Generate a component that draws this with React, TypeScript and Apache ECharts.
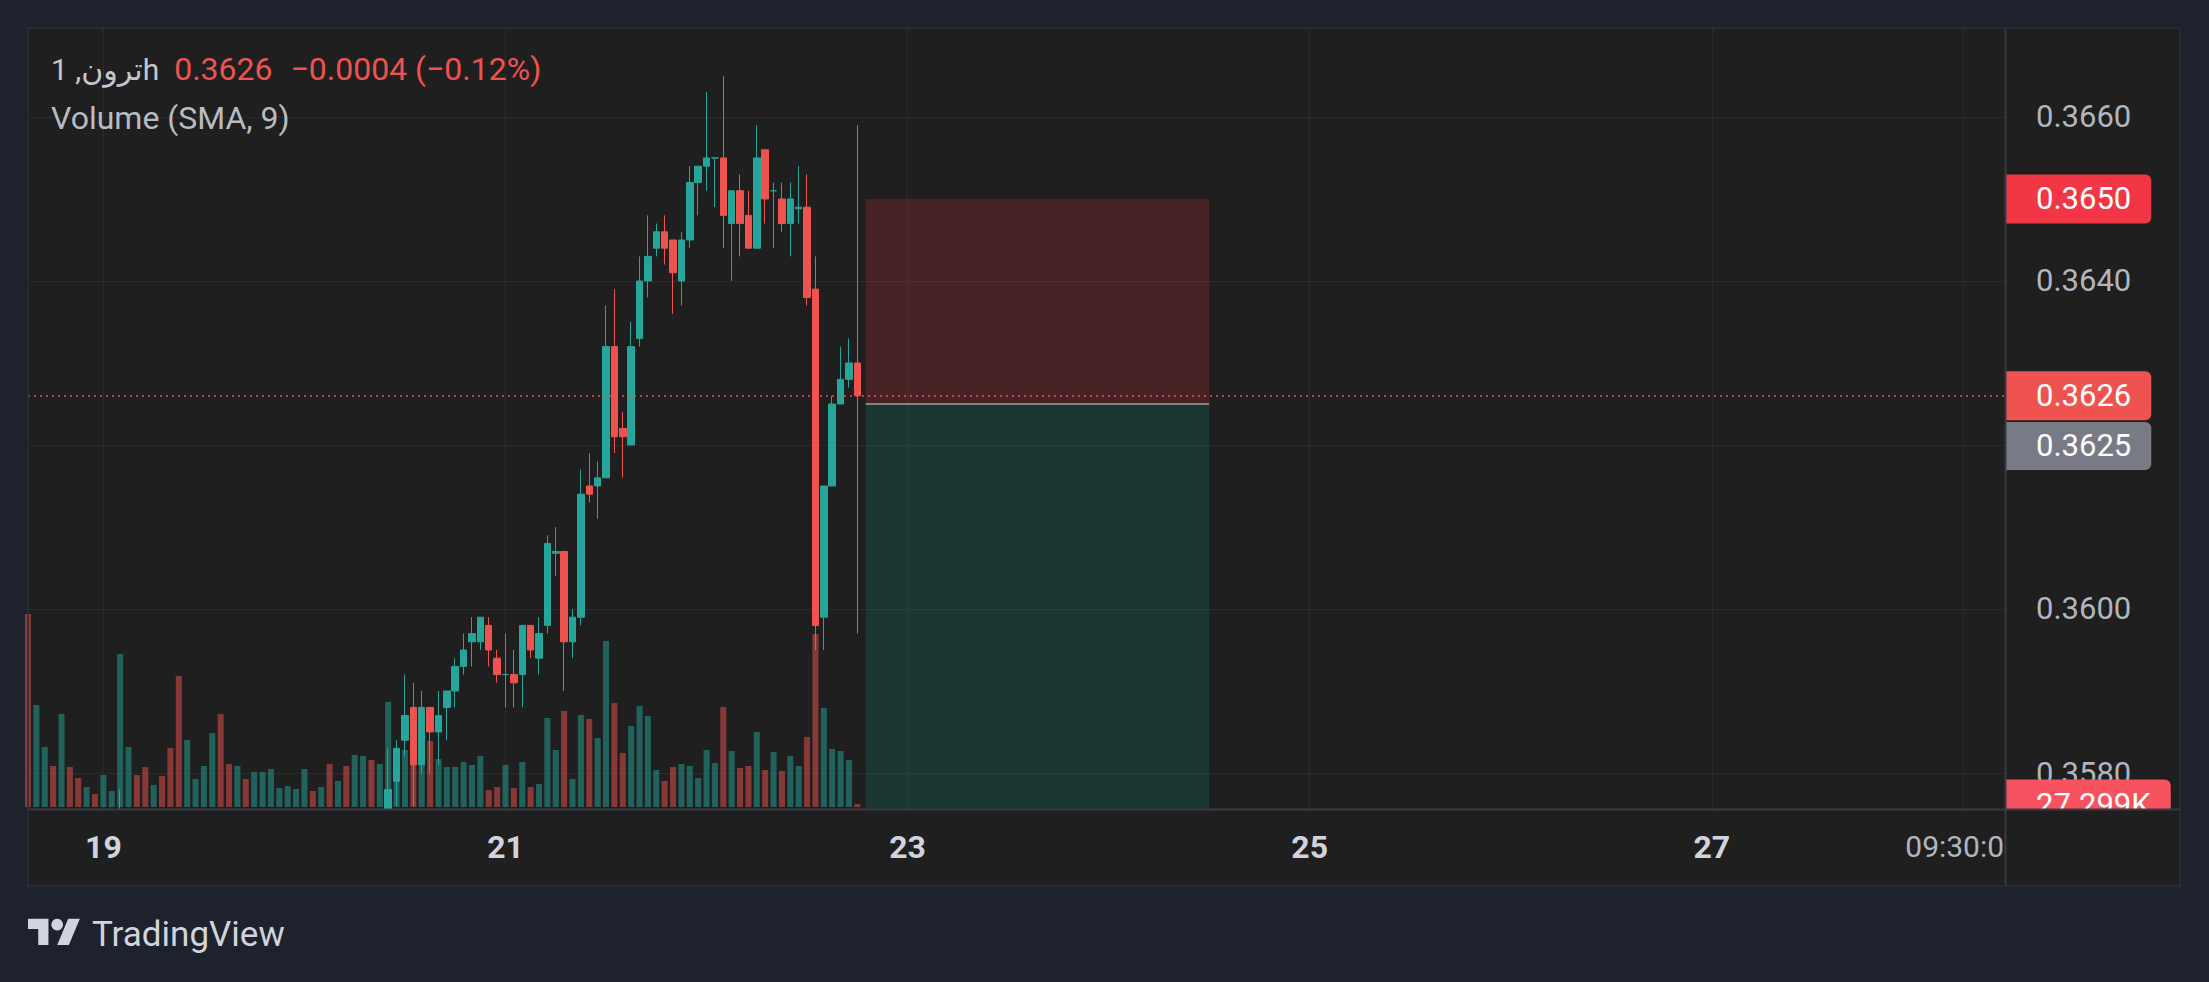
import React, { useEffect, useRef } from "react";
import * as echarts from "echarts";

const FONT = 'Roboto, "DejaVu Sans", "Noto Sans", sans-serif';
const OUTER_BG = "#1e222d";
const PANE_BG = "#1f1f1f";
const GRID_LINE = "#2b2b2b";
const DIVIDER = "#363a45";
const BORDER = "#2a2e39";
const UP = "#26a69a";
const DOWN = "#ef5350";
const UP_VOL = "rgba(38,166,154,0.5)";
const DOWN_VOL = "rgba(239,83,80,0.5)";
const AXIS_TEXT = "#b2b5be";
const HIDDEN_LINE = "rgba(0,0,0,0)";

// hourly categories, first bar = 18th 15:00
const FIRST_DAY = 18;
const FIRST_HOUR = 15;
const HOUR_COUNT = 237;
const CATEGORIES: string[] = [];
for (let i = 0; i < HOUR_COUNT; i++) {
  const h = FIRST_HOUR + i;
  CATEGORIES.push(`${FIRST_DAY + Math.floor(h / 24)} ${String(h % 24).padStart(2, "0")}:00`);
}
const TIME_LABELS: Record<number, string> = { 9: "19", 57: "21", 105: "23", 153: "25", 201: "27", 231: "09:30:00" };

// [open, close, low, high]
const CANDLES: number[][] = [
  [0.3566, 0.3561, 0.3558, 0.3568], [0.3561, 0.3565, 0.3559, 0.3567], [0.3565, 0.3567, 0.3563, 0.3569],
  [0.3567, 0.3565, 0.3563, 0.3568], [0.3565, 0.3569, 0.3564, 0.3571], [0.3569, 0.3567, 0.3566, 0.357],
  [0.3567, 0.3566, 0.3564, 0.3568], [0.3566, 0.3567, 0.3565, 0.3569], [0.3567, 0.3566, 0.3565, 0.3568],
  [0.3566, 0.3568, 0.3565, 0.3569], [0.3568, 0.3569, 0.3567, 0.357], [0.3569, 0.3573, 0.3568, 0.3578],
  [0.3573, 0.3574, 0.3571, 0.3575], [0.3574, 0.3572, 0.3571, 0.3575], [0.3572, 0.357, 0.3569, 0.3573],
  [0.357, 0.3571, 0.3569, 0.3572], [0.3571, 0.3569, 0.3568, 0.3572], [0.3569, 0.3566, 0.3565, 0.357],
  [0.3566, 0.3561, 0.3559, 0.3567], [0.3561, 0.3564, 0.356, 0.3565], [0.3564, 0.3565, 0.3563, 0.3566],
  [0.3565, 0.3567, 0.3564, 0.3568], [0.3567, 0.357, 0.3566, 0.3571], [0.357, 0.3566, 0.3565, 0.3571],
  [0.3566, 0.3564, 0.3563, 0.3567], [0.3564, 0.3566, 0.3563, 0.3567], [0.3566, 0.3565, 0.3564, 0.3567],
  [0.3565, 0.3567, 0.3564, 0.3568], [0.3567, 0.3568, 0.3566, 0.3569], [0.3568, 0.357, 0.3567, 0.3571],
  [0.357, 0.3571, 0.3569, 0.3572], [0.3571, 0.3572, 0.357, 0.3573], [0.3572, 0.3572, 0.3571, 0.3573],
  [0.3572, 0.3574, 0.3571, 0.3575], [0.3574, 0.3573, 0.3572, 0.3575], [0.3573, 0.3574, 0.3572, 0.3575],
  [0.3574, 0.3571, 0.357, 0.3575], [0.3571, 0.3572, 0.357, 0.3573], [0.3572, 0.357, 0.3569, 0.3573],
  [0.357, 0.3572, 0.3569, 0.3573], [0.3572, 0.3574, 0.3571, 0.3575], [0.3574, 0.3572, 0.3571, 0.3575],
  [0.3572, 0.3573, 0.3571, 0.3575],
  [0.3573, 0.3578, 0.3572, 0.3583], [0.3579, 0.3583, 0.3576, 0.3584], [0.3584, 0.3587, 0.3582, 0.3592],
  [0.3588, 0.3581, 0.3576, 0.3591], [0.3581, 0.3588, 0.358, 0.359], [0.3588, 0.3585, 0.358, 0.3588],
  [0.3585, 0.3587, 0.3581, 0.359], [0.3588, 0.359, 0.3584, 0.359], [0.359, 0.3593, 0.3588, 0.3594],
  [0.3593, 0.3595, 0.3592, 0.3597], [0.3596, 0.3597, 0.3593, 0.3599], [0.3596, 0.3599, 0.3595, 0.3599],
  [0.3598, 0.3595, 0.3593, 0.3599], [0.3594, 0.3592, 0.3591, 0.3595], [0.3592, 0.3592, 0.3588, 0.3597],
  [0.3592, 0.3591, 0.3588, 0.3595], [0.3592, 0.3598, 0.3588, 0.3598], [0.3598, 0.3595, 0.3594, 0.3598],
  [0.3594, 0.3597, 0.3592, 0.3599], [0.3598, 0.3608, 0.3597, 0.3609], [0.36068, 0.3607, 0.3604, 0.361],
  [0.3607, 0.3596, 0.359, 0.3607], [0.3596, 0.3599, 0.3594, 0.36], [0.3599, 0.3614, 0.3598, 0.3617],
  [0.3615, 0.3614, 0.3613, 0.3619], [0.3615, 0.3616, 0.3611, 0.3618], [0.3616, 0.3632, 0.3616, 0.3637],
  [0.3632, 0.3621, 0.3619, 0.3639], [0.3622, 0.3621, 0.3616, 0.3624], [0.362, 0.3632, 0.362, 0.3635],
  [0.3633, 0.364, 0.3632, 0.3643], [0.364, 0.3643, 0.3638, 0.3648], [0.3644, 0.3646, 0.3643, 0.3647],
  [0.3646, 0.3644, 0.3642, 0.3648], [0.3645, 0.3641, 0.3636, 0.3645], [0.364, 0.3645, 0.3637, 0.3646],
  [0.3645, 0.3652, 0.3644, 0.3654], [0.3652, 0.3654, 0.3648, 0.3654], [0.3654, 0.3655, 0.3651, 0.3663],
  [0.3655, 0.3655, 0.3649, 0.3655], [0.3655, 0.3648, 0.3644, 0.3665], [0.3647, 0.3651, 0.364, 0.3651],
  [0.3651, 0.3647, 0.3643, 0.3653], [0.3648, 0.3644, 0.3644, 0.3651], [0.3644, 0.3655, 0.3644, 0.3659],
  [0.3656, 0.365, 0.3647, 0.3656], [0.3651, 0.3651, 0.3644, 0.3652], [0.365, 0.3647, 0.3646, 0.3652],
  [0.3647, 0.365, 0.3643, 0.3652], [0.36488, 0.3649, 0.3647, 0.3654], [0.3649, 0.3638, 0.3637, 0.3653],
  [0.3639, 0.3598, 0.3595, 0.3643], [0.3599, 0.3615, 0.3595, 0.3615], [0.3615, 0.3625, 0.3615, 0.3626],
  [0.3625, 0.3628, 0.3625, 0.3632], [0.3628, 0.363, 0.3627, 0.3633], [0.363, 0.3626, 0.3597, 0.3659],
];

// volume in thousands
const VOLUMES_K: number[] = [
  1756, 928, 546, 373, 846, 364, 264, 182, 118, 291,
  146, 1392, 546, 291, 364, 200, 282, 537, 1192, 610,
  255, 373, 673, 846, 391, 373, 255, 319, 319, 346,
  173, 191, 164, 346, 146, 182, 391, 237, 373, 473,
  464, 428, 391, 956, 537, 519, 500, 437, 601, 437,
  364, 364, 410, 382, 464, 155, 182, 382, 173, 410,
  182, 209, 810, 519, 874, 255, 837, 801, 628, 1511,
  946, 491, 737, 919, 828, 337, 237, 364, 391, 373,
  264, 519, 400, 910, 510, 355, 373, 683, 337, 501,
  328, 464, 373, 637, 1574, 901, 528, 510, 428, 27.299,
];

const LAST_PRICE = 0.3626;
const ENTRY_PRICE = 0.3625;
const STOP_PRICE = 0.365;
const POSITION_FROM = 100;
const POSITION_TO = 141;
const LAST_VOLUME_TEXT = "27.299K";

const PRICE_MIN = 0.357561;
const PRICE_MAX = 0.367085;
const PRICE_TICK_START = 0.358;
const PRICE_TICK_STEP = 0.002;
const HIDDEN_PRICE_TICKS = ["0.3620"];
const VOLUME_MAX = 1820;

// layout (px)
const PANE_L = 28, PANE_T = 28, PANE_R = 2180, PANE_B = 886;
const PLOT_R = 2005, PLOT_B = 809;
const PLOT_W = PLOT_R - PANE_L;
const PLOT_H = PLOT_B - PANE_T;
const VOL_BASE = 807, VOL_H = 200;

function tagLabel(bg: string, text: string) {
  return {
    show: true,
    position: "end",
    distance: 1,
    formatter: () => text,
    color: "#ffffff",
    fontSize: 31,
    fontFamily: FONT,
    backgroundColor: bg,
    padding: [9, 20, 9, 30],
    borderRadius: [0, 6, 6, 0],
  };
}

export default function App() {
  const ref = useRef<HTMLDivElement>(null);
  useEffect(() => {
    document.body.style.margin = "0";
    document.body.style.background = OUTER_BG;
    const chart = echarts.init(ref.current!, undefined, { renderer: "svg" });
    const tickFilter = (idx: number) => TIME_LABELS[idx] !== undefined;
    const volumeData = VOLUMES_K.map((v, i) => {
      const c = CANDLES[i];
      const up = c[1] > c[0] || (c[1] === c[0] && (i === 0 || CANDLES[i - 1][1] <= c[1]));
      return { value: v, itemStyle: { color: up ? UP_VOL : DOWN_VOL } };
    });
    const overlayH = (PLOT_H * (PRICE_MAX - PRICE_TICK_START)) / (PRICE_MAX - PRICE_MIN);

    chart.setOption({
      animation: false,
      backgroundColor: OUTER_BG,
      textStyle: { fontFamily: FONT },
      grid: [
        { left: PANE_L, top: PANE_T, width: PLOT_W, height: PLOT_H },
        { left: PANE_L, top: PANE_T, width: PLOT_W, height: overlayH },
        { left: PANE_L, top: VOL_BASE - VOL_H, width: PLOT_W, height: VOL_H },
      ],
      xAxis: [
        {
          type: "category", gridIndex: 0, data: CATEGORIES, boundaryGap: false,
          axisLine: { show: false }, axisTick: { show: false }, axisLabel: { show: false },
          splitLine: { show: true, interval: (idx: number) => tickFilter(idx), lineStyle: { color: GRID_LINE, width: 1 } },
        },
        { type: "category", gridIndex: 1, data: CATEGORIES, boundaryGap: false, show: false },
        {
          type: "category", gridIndex: 2, data: CATEGORIES, boundaryGap: false, z: 50,
          axisLine: { show: false }, axisTick: { show: false }, splitLine: { show: false },
          axisLabel: {
            interval: (idx: number) => tickFilter(idx),
            margin: 24,
            formatter: (_v: string, idx: number) => {
              const t = TIME_LABELS[idx];
              if (!t) return "";
              return t.length > 2 ? `{t|${t}}` : `{d|${t}}`;
            },
            rich: {
              d: { fontSize: 32, fontWeight: "bold", color: "#d1d4dc", fontFamily: FONT },
              t: { fontSize: 30, color: AXIS_TEXT, fontFamily: FONT },
            },
          },
        },
      ],
      yAxis: [
        { type: "value", gridIndex: 0, min: PRICE_MIN, max: PRICE_MAX, show: false },
        {
          type: "value", gridIndex: 1, position: "right",
          min: PRICE_TICK_START, max: PRICE_MAX, interval: PRICE_TICK_STEP,
          axisLine: { show: false }, axisTick: { show: false },
          axisLabel: {
            margin: 31, color: AXIS_TEXT, fontSize: 31, fontFamily: FONT, showMaxLabel: false,
            formatter: (v: number) => {
              const s = v.toFixed(4);
              return HIDDEN_PRICE_TICKS.includes(s) ? "" : s;
            },
          },
          splitLine: { show: true, lineStyle: { color: GRID_LINE, width: 1 } },
        },
        { type: "value", gridIndex: 2, min: 0, max: VOLUME_MAX, show: false },
      ],
      series: [
        {
          type: "bar", name: "Volume", xAxisIndex: 2, yAxisIndex: 2,
          data: volumeData, barWidth: 6, clip: true,
          markLine: {
            silent: true, symbol: ["none", "none"], animation: false, precision: 6,
            data: [
              { yAxis: VOLUMES_K[VOLUMES_K.length - 1], lineStyle: { color: HIDDEN_LINE, width: 0 }, label: tagLabel("#f7525f", LAST_VOLUME_TEXT) },
            ],
          },
        },
        {
          type: "candlestick", name: "ترون", xAxisIndex: 0, yAxisIndex: 0,
          data: CANDLES, barWidth: 7, clip: true,
          itemStyle: { color: UP, color0: DOWN, borderColor: UP, borderColor0: DOWN, borderWidth: 1 },
          markArea: {
            silent: true,
            label: { show: false },
            data: [
              [
                { xAxis: CATEGORIES[POSITION_FROM], yAxis: STOP_PRICE, itemStyle: { color: "rgba(242,54,69,0.2)" } },
                { xAxis: CATEGORIES[POSITION_TO], yAxis: ENTRY_PRICE },
              ],
              [
                { xAxis: CATEGORIES[POSITION_FROM], yAxis: ENTRY_PRICE, itemStyle: { color: "rgba(8,153,129,0.2)" } },
                { xAxis: CATEGORIES[POSITION_TO], yAxis: PRICE_MIN },
              ],
            ],
          },
          markLine: {
            silent: true, symbol: ["none", "none"], animation: false, precision: 6,
            data: [
              [
                { xAxis: CATEGORIES[POSITION_FROM], yAxis: ENTRY_PRICE, lineStyle: { color: "#80838c", width: 2, type: "solid" }, label: { show: false } },
                { xAxis: CATEGORIES[POSITION_TO], yAxis: ENTRY_PRICE },
              ],
              { yAxis: STOP_PRICE, lineStyle: { color: HIDDEN_LINE, width: 0 }, label: tagLabel("#f23645", STOP_PRICE.toFixed(4)) },
              {
                yAxis: ENTRY_PRICE, lineStyle: { color: HIDDEN_LINE, width: 0 },
                label: {
                  show: true, position: "end", distance: 1,
                  formatter: () => `{sp| }\n{g|${ENTRY_PRICE.toFixed(4)}}`,
                  rich: {
                    sp: { height: 84, fontSize: 2 },
                    g: {
                      color: "#ffffff", fontSize: 31, fontFamily: FONT, height: 30,
                      backgroundColor: "#787b86", padding: [9, 20, 9, 30], borderRadius: [0, 6, 6, 0],
                    },
                  },
                },
              },
              {
                yAxis: LAST_PRICE,
                lineStyle: { color: DOWN, width: 1.5, type: [2, 4] },
                label: tagLabel("#ef5350", LAST_PRICE.toFixed(4)),
              },
            ],
          },
        },
      ],
      graphic: [
        { type: "rect", z: -5, shape: { x: PANE_L, y: PANE_T, width: PANE_R - PANE_L, height: PANE_B - PANE_T }, style: { fill: PANE_BG } },
        // time-axis row mask (hides candles that run past the price pane)
        { type: "rect", z: 40, shape: { x: PANE_L + 1, y: PLOT_B + 1, width: PLOT_R - PANE_L - 1, height: PANE_B - PLOT_B - 2 }, style: { fill: PANE_BG } },
        // price-axis corner mask
        { type: "rect", z: 90, shape: { x: PLOT_R + 1, y: PLOT_B + 1, width: PANE_R - PLOT_R - 2, height: PANE_B - PLOT_B - 2 }, style: { fill: PANE_BG } },
        { type: "line", z: 95, shape: { x1: PANE_L, y1: PLOT_B + 0.5, x2: PANE_R, y2: PLOT_B + 0.5 }, style: { stroke: DIVIDER, lineWidth: 2 } },
        { type: "line", z: 95, shape: { x1: PLOT_R + 0.5, y1: PANE_T, x2: PLOT_R + 0.5, y2: PANE_B }, style: { stroke: DIVIDER, lineWidth: 2 } },
        { type: "rect", z: 96, shape: { x: PANE_L, y: PANE_T, width: PANE_R - PANE_L, height: PANE_B - PANE_T }, style: { fill: "none", stroke: BORDER, lineWidth: 1.5 } },
        {
          type: "text", z: 100, x: 51, y: 69,
          style: {
            text: "{n|ترون, 1h}{v|0.3626}{c|−0.0004 (−0.12%)}",
            verticalAlign: "middle",
            rich: {
              n: { fontSize: 30, fontFamily: FONT, fill: "#c3c6cc" },
              v: { fontSize: 32, fontFamily: FONT, fill: "#ef5350", padding: [0, 0, 0, 15] },
              c: { fontSize: 32, fontFamily: FONT, fill: "#ef5350", padding: [0, 0, 0, 18] },
            },
          },
        },
        {
          type: "text", z: 100, x: 51, y: 118,
          style: { text: "Volume (SMA, 9)", fontSize: 32, fontFamily: FONT, fill: "#b8bbc2", verticalAlign: "middle" },
        },
        {
          type: "group", x: 28, y: 913, scaleX: 1.46, scaleY: 1.46, z: 100,
          children: [
            { type: "polygon", shape: { points: [[14, 22], [7, 22], [7, 11], [0, 11], [0, 4], [14, 4]] }, style: { fill: "#d1d4dc" } },
            { type: "polygon", shape: { points: [[28, 22], [20, 22], [27.5, 4], [35.5, 4]] }, style: { fill: "#d1d4dc" } },
            { type: "circle", shape: { cx: 20, cy: 8, r: 4 }, style: { fill: "#d1d4dc" } },
          ],
        },
        {
          type: "text", z: 100, x: 92, y: 934,
          style: { text: "TradingView", fontSize: 35, fontFamily: FONT, fill: "#d1d4dc", verticalAlign: "middle" },
        },
      ],
    });
    return () => chart.dispose();
  }, []);
  return <div ref={ref} style={{ width: 2209, height: 982 }} />;
}
